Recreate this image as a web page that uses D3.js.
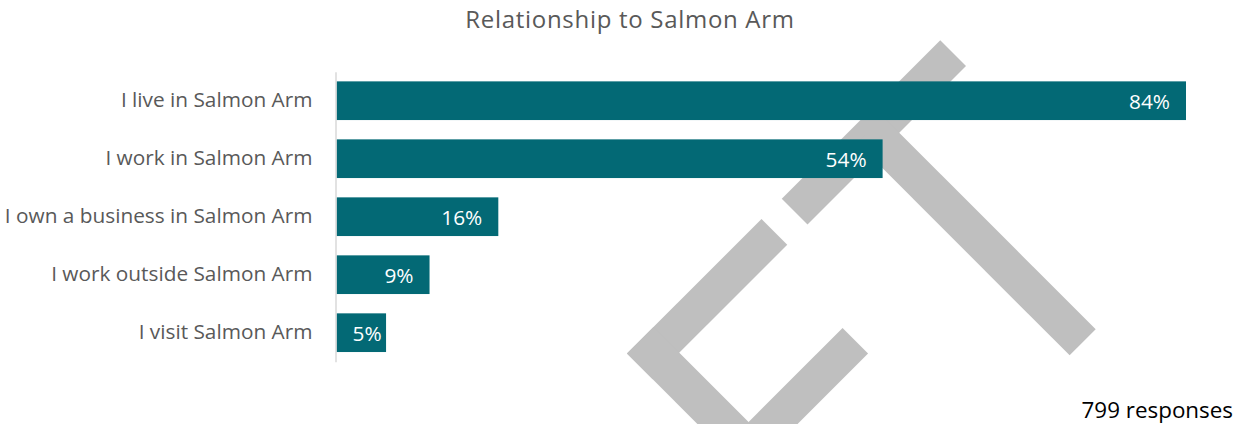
<!DOCTYPE html>
<html>
<head>
<meta charset="utf-8">
<script src="https://cdn.jsdelivr.net/npm/d3@7"></script>
<style>
  html, body { margin: 0; padding: 0; background: #ffffff; }
  svg { display: block; font-family: "Open Sans", "Noto Sans", sans-serif; }
</style>
</head>
<body>
<svg id="chart" width="1247" height="424"></svg>
<script>
// ---- data ----
const title = "Relationship to Salmon Arm";
const categories = [
  "I live in Salmon Arm",
  "I work in Salmon Arm",
  "I own a business in Salmon Arm",
  "I work outside Salmon Arm",
  "I visit Salmon Arm"
];
const values = [84, 54, 16, 9.2, 4.9];           // percent of respondents
const valueLabels = ["84%", "54%", "16%", "9%", "5%"];
const footnote = "799 responses";

// ---- layout ----
const W = 1247, H = 424;
const plot = { left: 336.5, right: 1186, top: 71.7, bottom: 361.7 };
const svg = d3.select("#chart");

const x = d3.scaleLinear().domain([0, 84]).range([plot.left, plot.right]);
const y = d3.scaleBand().domain(categories)
  .range([plot.top, plot.bottom])
  .paddingInner(0.333).paddingOuter(0.1667);

// ---- background watermark (decorative logo, rotated 45deg strokes) ----
// rectangles in rotated space: s = x + y, d = y - x
const wmRects = [
  [980.5, 1032, -900, -583],
  [1000, 1425, -766.4, -714.3],
  [980.5, 1032, -542.5, -273.4],
  [980.5, 1500, -326.6, -273.4],
  [1170.6, 1221.6, -514.5, -100]
];
svg.append("g")
  .attr("transform", "matrix(0.5,0.5,-0.5,0.5,0,0)")
  .selectAll("rect").data(wmRects).join("rect")
  .attr("x", d => d[0]).attr("y", d => d[2])
  .attr("width", d => d[1] - d[0]).attr("height", d => d[3] - d[2])
  .attr("fill", "#BFBFBF");

// ---- title ----
svg.append("text")
  .attr("x", 630).attr("y", 27.5)
  .attr("text-anchor", "middle")
  .attr("font-size", 24).attr("letter-spacing", 0.7).attr("fill", "#595959")
  .text(title);

// ---- bars ----
const data = categories.map((c, i) => ({ c, v: values[i], label: valueLabels[i] }));
svg.append("g").selectAll("rect").data(data).join("rect")
  .attr("x", x(0))
  .attr("y", d => y(d.c))
  .attr("width", d => x(d.v) - x(0))
  .attr("height", y.bandwidth())
  .attr("fill", "#036975");

// ---- value labels (inside end, kept clear of the bar start) ----
const pad = 16;
svg.append("g").selectAll("text").data(data).join("text")
  .attr("y", d => y(d.c) + y.bandwidth() / 2)
  .attr("dy", "0.38em")
  .attr("text-anchor", "end")
  .attr("font-size", 20.8).attr("fill", "#ffffff")
  .text(d => d.label)
  .attr("x", function(d) {
    const w = this.getComputedTextLength();
    return Math.max(x(d.v) - pad, x(0) + pad + w);
  });

// ---- category axis ----
const yAxis = d3.axisLeft(y).tickSize(0).tickPadding(23);
const ag = svg.append("g").attr("transform", `translate(${plot.left - 1},0)`).call(yAxis);
ag.select(".domain").attr("stroke", "#D9D9D9").attr("stroke-width", 1.5);
ag.selectAll(".tick text")
  .attr("font-family", "\"Open Sans\", \"Noto Sans\", sans-serif")
  .attr("font-size", 20.8).attr("fill", "#595959").attr("dy", "0.32em");

// ---- footnote ----
svg.append("text")
  .attr("x", 1233).attr("y", 418)
  .attr("text-anchor", "end")
  .attr("font-size", 22.4).attr("fill", "#000000")
  .text(footnote);
</script>
</body>
</html>
